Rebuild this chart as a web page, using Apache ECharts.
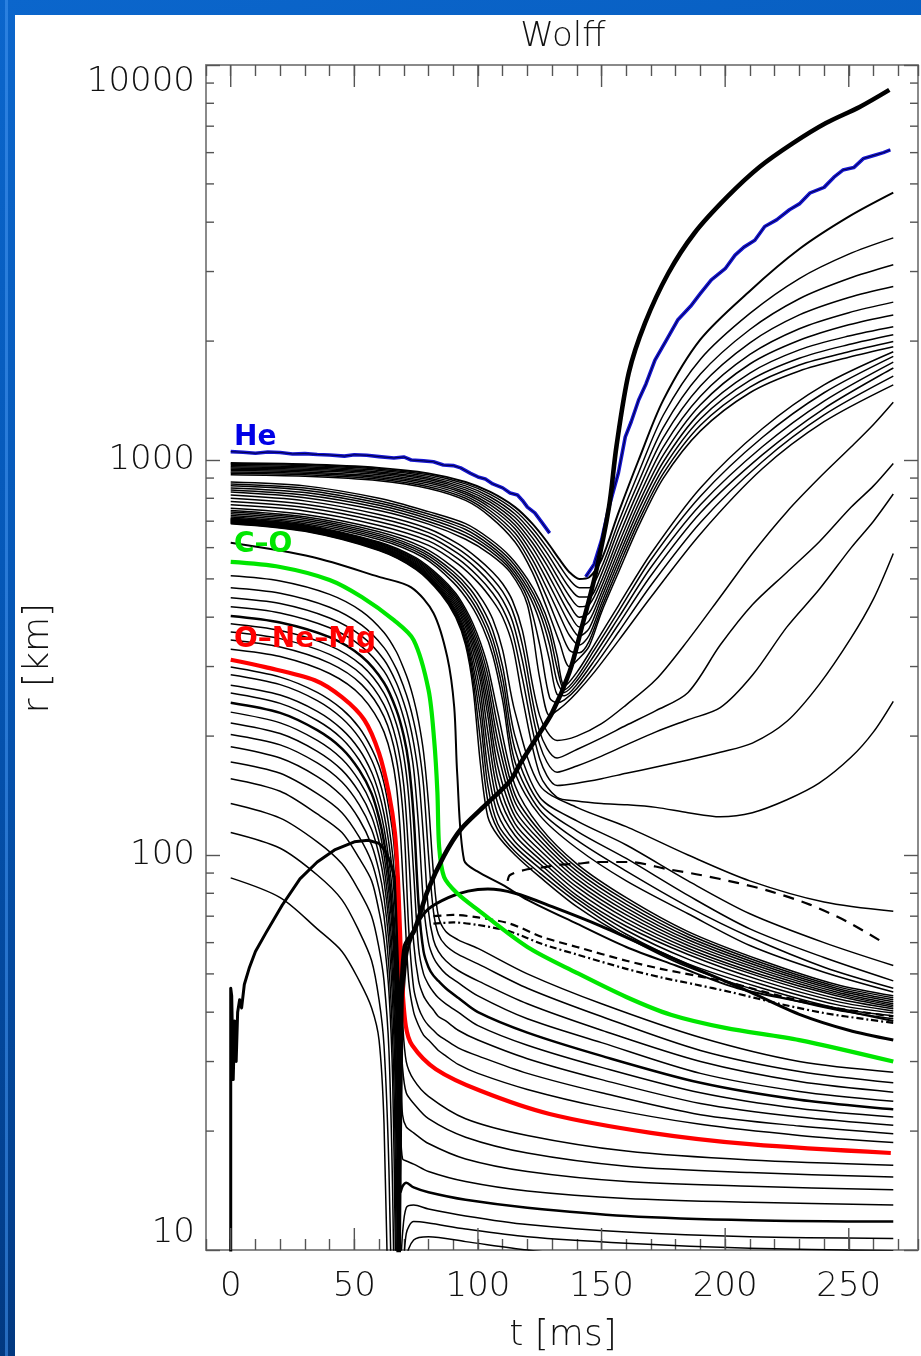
<!DOCTYPE html>
<html><head><meta charset="utf-8">
<script src="https://cdn.jsdelivr.net/npm/echarts@6/dist/echarts.min.js"></script>
<style>
html,body{margin:0;padding:0;width:921px;height:1356px;overflow:hidden;
background:linear-gradient(165deg,#0b66cc 0%,#0558b8 35%,#02408f 75%,#012c68 100%);}
#deco{position:absolute;left:5px;top:0;width:3px;height:1356px;background:rgba(70,150,240,0.55);}
#panel{position:absolute;left:15px;top:15px;width:906px;height:1341px;background:#fff;}
#chart{position:absolute;left:0;top:0;width:921px;height:1356px;}
</style></head><body><div id="deco"></div><div id="panel"></div><div id="chart"></div>
<script>
// ---------------- axis ticks / labels ----------------
const MAJOR_X = [0, 50, 100, 150, 200, 250];
const MINOR_Y = [20,30,40,50,60,70,80,90,200,300,400,500,600,700,800,900,2000,3000,4000,5000,6000,7000,8000,9000];

// ---------------- inner core shells (below O-Ne-Mg) ----------------
const T_INNER = [0, 20, 35, 45, 52, 57, 60, 62, 64, 65.5, 66.5, 67.3, 68, 68.7, 69.5, 71, 74, 80, 95, 120, 160, 210, 268];
const L1  = [299, 282, 258, 234, 210, 186, 168, 152, 131, 114, 98, 82, 66, 50, 38, 30, 27, 24.5, 21.5, 19.5, 17.8, 16.9, 16.4];
const L2  = [286, 270, 246, 222, 198, 174, 155, 139, 118, 100, 84, 68, 52, 38, 29, 25, 23.5, 21.5, 19.3, 17.6, 16.3, 15.7, 15.3];
const L3  = [269, 254, 231, 208, 185, 162, 143, 127, 107, 89, 73, 57, 41, 28, 22, 20.5, 19.8, 18.6, 17, 15.8, 14.9, 14.5, 14.2];
const L4  = [257, 242, 219, 197, 174, 152, 133, 117, 97, 79, 63, 47, 31, 20, 17, 16.8, 16.5, 15.8, 14.9, 14.1, 13.5, 13.2, 13.0];
const L5  = [243, 229, 207, 186, 164, 143, 124, 108, 88, 70, 54, 38, 23, 14, 14.5, 14.8, 14.4, 14, 13.4, 12.8, 12.2, 11.9, 11.8];
const L6  = [230, 216, 195, 175, 154, 134, 116, 100, 80, 62, 46, 30, 16, 9, 11, 12.8, 13, 12.7, 12.2, 11.6, 11.1, 10.8, 10.7];
const L7  = [216, 203, 183, 164, 144, 125, 108, 93, 73, 55, 39, 23, 10, 6, 8, 11, 11.8, 11.7, 11.3, 10.8, 10.4, 10.1, 9.95];
const L8  = [202, 190, 171, 153, 134, 116, 100, 86, 67, 49, 33, 17, 7, 4, 6, 9.5, 10.6, 10.8, 10.5, 10, 9.4, 8.9, 8.5];
const L9  = [188, 176, 158, 141, 123, 106, 91, 78, 60, 42, 26, 11, 4];
const L10 = [172, 161, 143, 128, 111, 96, 82, 70, 52, 34, 18, 6, 4];
const L11 = [156, 145, 127, 114, 98, 86, 72, 61, 45, 27, 11, 4];
const L12 = [135, 124, 108, 95, 81, 70, 58, 48, 32, 14, 5];
const L13 = [114, 104, 89, 77, 64, 54, 43, 33, 16, 5];
const L14 = [87.5, 78, 65, 57, 48, 41, 34, 21, 6, 4];

// ---------------- O-Ne-Mg and C-O shells ----------------
const T_RED = [0, 14, 34, 45, 54, 60, 64, 66.4, 67.6, 68.4, 69.2, 70.8, 73.4, 83, 101, 129, 170, 211, 267];
const R_RED = [312, 299, 277, 251, 220, 181, 143, 114, 88, 66, 49, 37, 33, 28.7, 25.3, 22.1, 19.8, 18.5, 17.6];
const T_GREEN = [0, 20, 40, 53, 66, 74, 80, 82.3, 83.6, 84.3, 86.3, 91.6, 100, 120, 140, 160, 178, 200, 230, 268];
const R_GREEN = [552, 536, 497, 450, 393, 350, 262, 195, 144, 105, 88, 80, 72.6, 58.5, 50.3, 43.7, 39.4, 36.5, 34, 30];

// ---------------- shells between O-Ne-Mg and C-O ----------------
const T_MID = [0, 20, 40, 53, 62, 67, 70, 72, 74, 76, 78, 80, 82, 84, 87, 92, 100, 120, 150, 190, 230, 268];
const M1 = [332, 318, 288, 252, 205, 150, 80, 48, 40, 37, 35, 34, 33, 32, 31, 29.5, 28, 25.5, 23, 20.8, 19.5, 18.7];
const M2 = [350, 336, 306, 270, 224, 175, 120, 65, 46, 41, 38.5, 37, 36, 35, 34, 32.5, 31, 28, 25, 22, 20.6, 19.7];
const M3 = [367, 353, 322, 286, 240, 195, 150, 100, 60, 48, 44, 42, 40.5, 39, 38, 36, 34, 30.5, 27, 23.5, 21.7, 20.7];
const M4 = [385, 370, 339, 302, 257, 215, 178, 140, 90, 58, 50, 47, 45, 43.5, 42, 40, 37, 33, 29, 25, 22.8, 21.7];
const M5 = [403, 388, 356, 318, 273, 233, 200, 170, 125, 75, 57, 52, 49.5, 48, 46, 43.5, 40, 35.5, 31, 26.5, 24, 22.7];
const M6 = [425, 410, 376, 337, 292, 253, 222, 197, 165, 118, 75, 60, 55, 52.5, 50, 47.5, 44, 38.5, 33.5, 28, 25.2, 23.8];
const M7 = [448, 433, 398, 358, 312, 273, 243, 220, 192, 158, 110, 72, 61, 57, 54, 51, 48, 42, 36, 30, 26.7, 25.1];
const M8 = [475, 460, 424, 382, 335, 296, 266, 244, 218, 188, 150, 100, 72, 63, 59, 56, 53, 46, 39, 32, 28.3, 26.5];
const M9 = [509, 494, 457, 414, 366, 327, 296, 274, 248, 218, 182, 135, 90, 70, 64, 61, 58, 50, 42, 34.5, 30, 28.2];

// ---------------- shell just above C-O ----------------
const T_A0 = [0, 33, 60, 73, 82, 87.6, 90.4, 91.6, 94.4, 99.6, 110, 120, 140, 160, 180, 205, 235, 268];
const R_A0 = [617, 568, 506, 476, 410, 317, 237, 161, 97, 91, 84, 77, 67, 58.5, 52.5, 46, 42, 38];

// ---------------- lower dense bundle: settling shells ----------------
const T_BD = [0, 30, 60, 75, 85, 91, 95, 98, 101, 104, 108, 115, 125, 140, 160, 185, 215, 245, 268];
const BD1  = [712, 685, 620, 565, 505, 460, 420, 385, 345, 300, 230, 150, 118, 95, 78, 64, 54, 47, 44];
const BD2  = [710, 682, 617, 561, 500, 454, 413, 376, 334, 285, 212, 142, 115, 93, 76.5, 63, 53.3, 46.5, 43.5];
const BD3  = [708, 679, 614, 557, 495, 448, 406, 367, 323, 270, 196, 136, 112, 91, 75, 62, 52.6, 46, 43];
const BD4  = [706, 676, 611, 553, 490, 442, 399, 358, 312, 255, 182, 130, 109, 89, 73.5, 61, 51.9, 45.5, 42.5];
const BD5  = [704, 674, 608, 549, 485, 436, 392, 349, 300, 240, 168, 125, 106, 87, 72, 60, 51.2, 45, 42];
const BD6  = [702, 671, 605, 545, 480, 430, 385, 339, 288, 225, 156, 120, 103, 85, 70.5, 59, 50.5, 44.5, 41.6];
const BD7  = [700, 669, 602, 542, 475, 424, 377, 328, 275, 205, 145, 116, 100, 83, 69, 58, 49.7, 44, 41.2];
const BD8  = [698, 667, 599, 539, 471, 418, 368, 315, 258, 185, 135, 112, 97.5, 81, 67.5, 57, 49, 43.3, 40.8];
const BD9  = [696, 665, 597, 536, 467, 413, 360, 302, 240, 165, 127, 108, 95, 79, 66, 56, 48, 42.6, 40.3];
const BD10 = [694, 664, 595, 533, 464, 409, 352, 290, 220, 150, 120, 105, 92.5, 77.5, 64.5, 54.5, 47, 41.8, 39.8];
const BD11 = [692, 662, 592, 530, 461, 404, 346, 278, 195, 137, 116, 102, 90, 76, 63, 53, 46, 41, 39.2];
const BD12 = [690, 660, 590, 528, 458, 400, 340, 265, 170, 125, 112, 100, 88, 74, 62, 52, 45, 40.5, 38.5];

// ---------------- lower bundle: shells that fall back slowly ----------------
const T_BM = [0, 30, 60, 78, 90, 97, 102, 106, 110, 115, 125, 140, 160, 185, 210, 240, 268];
const BM1 = [717, 690, 629, 566, 490, 431, 376, 320, 246, 162, 126, 104, 86, 71, 59, 50.5, 45];
const BM2 = [724, 697, 636, 574, 501, 444, 390, 336, 262, 172, 130, 109, 91, 74, 62, 52, 46];
const BM3 = [731, 704, 643, 582, 512, 457, 405, 352, 280, 185, 135, 115, 98, 79, 65, 55, 48];
const BM4 = [738, 711, 650, 590, 522, 470, 420, 370, 300, 200, 140, 122, 106, 86, 71, 60, 52.5];
const BM5 = [745, 718, 658, 600, 535, 485, 440, 395, 330, 230, 150, 132, 118, 100, 86, 76, 72];

// ---------------- lower bundle: shells that turn around and expand ----------------
const T_BA = [0, 30, 60, 80, 92, 100, 106, 110, 114, 118, 125, 132, 140, 150, 160, 172, 185, 198, 211, 225, 238, 251, 260, 268];
const BA1 = [815, 788, 728, 670, 613, 563, 520, 486, 440, 370, 225, 195, 200, 215, 240, 278, 350, 450, 580, 740, 900, 1080, 1230, 1400];
const BA2 = [800, 773, 713, 655, 596, 545, 500, 464, 415, 340, 205, 176, 185, 198, 213, 232, 258, 340, 430, 520, 620, 760, 860, 980];
const BA3 = [785, 758, 698, 640, 579, 527, 480, 442, 390, 310, 190, 162, 168, 178, 190, 205, 220, 236, 285, 378, 470, 600, 700, 820];
const BA4 = [770, 743, 683, 624, 562, 508, 460, 420, 365, 280, 175, 150, 152, 156, 161, 167, 174, 182, 192, 218, 270, 355, 445, 580];
const BA5 = [755, 728, 668, 608, 545, 490, 440, 400, 340, 250, 160, 140, 137, 135, 134, 132, 128, 125, 128, 138, 152, 177, 205, 245];

// ---------------- outer part of lower bundle: swept up by the shock ----------------
const T_BT = [0, 30, 60, 80, 95, 105, 113, 120, 125, 129, 132, 135, 140, 147, 157, 170, 190, 215, 240, 268];
const BT1 = [880, 860, 800, 740, 690, 630, 570, 500, 440, 380, 320, 268, 290, 340, 430, 580, 850, 1200, 1550, 1880];
const BT2 = [870, 849, 789, 730, 678, 619, 559, 488, 425, 362, 298, 262, 282, 330, 415, 560, 810, 1140, 1480, 1830];
const BT3 = [860, 838, 778, 720, 667, 608, 548, 476, 410, 340, 275, 258, 276, 320, 400, 535, 770, 1080, 1410, 1770];
const BT4 = [850, 827, 768, 710, 655, 598, 538, 463, 390, 310, 255, 253, 270, 310, 385, 510, 735, 1030, 1350, 1710];
const BT5 = [840, 815, 757, 699, 643, 588, 529, 448, 340, 250, 243, 247, 264, 300, 368, 482, 695, 990, 1300, 1630];
const BT6 = [830, 803, 745, 688, 630, 577, 520, 430, 280, 225, 232, 240, 258, 290, 350, 450, 650, 950, 1250, 1550];

// ---------------- top bundle (just below He) ----------------
const T_TOP = [0, 30, 60, 80, 95, 105, 115, 122, 128, 133, 137, 141, 145, 150, 157, 165, 175, 190, 210, 230, 250, 268];
const TP1  = [982, 975, 955, 925, 880, 830, 760, 690, 620, 560, 520, 500, 505, 560, 740, 1000, 1420, 2020, 2680, 3420, 4130, 4750];
const TP2  = [975, 968, 948, 917, 870, 818, 745, 672, 600, 540, 498, 475, 475, 535, 700, 930, 1300, 1800, 2350, 2880, 3320, 3650];
const TP3  = [968, 961, 941, 909, 860, 806, 730, 654, 580, 518, 475, 450, 450, 515, 670, 880, 1210, 1650, 2140, 2560, 2880, 3120];
const TP4  = [961, 954, 933, 900, 850, 794, 715, 636, 560, 496, 452, 425, 430, 495, 640, 840, 1140, 1540, 1980, 2330, 2580, 2750];
const TP5  = [954, 947, 926, 892, 840, 782, 700, 618, 540, 475, 430, 400, 410, 478, 615, 805, 1080, 1450, 1850, 2150, 2360, 2510];
const TP6  = [947, 940, 918, 883, 830, 770, 685, 600, 518, 453, 408, 378, 392, 462, 592, 775, 1030, 1380, 1750, 2010, 2200, 2330];
const TP7  = [940, 933, 910, 874, 820, 757, 670, 580, 496, 430, 385, 358, 375, 448, 572, 748, 990, 1320, 1660, 1900, 2060, 2175];
const TP8  = [932, 925, 902, 865, 810, 744, 653, 560, 472, 405, 360, 340, 360, 434, 555, 722, 955, 1270, 1590, 1810, 1960, 2075];
const TP9  = [925, 917, 894, 856, 800, 731, 637, 540, 447, 375, 330, 325, 348, 422, 538, 700, 925, 1225, 1530, 1740, 1880, 1995];
const TP10 = [917, 909, 886, 847, 790, 718, 620, 520, 420, 345, 300, 315, 338, 412, 522, 680, 900, 1185, 1480, 1680, 1820, 1935];

// ---------------- He shell (two pieces) ----------------
const T_HE1 = [0, 5, 10, 15, 20, 25, 30, 35, 40, 46, 50, 55, 60, 66, 70, 73, 78, 82, 86, 90, 93, 97, 100, 103, 106, 110, 113, 116, 118, 120, 123, 126, 129];
const R_HE1 = [1050, 1046, 1040, 1048, 1045, 1036, 1038, 1033, 1030, 1023, 1031, 1028, 1020, 1012, 1018, 1000, 995, 990, 971, 968, 955, 925, 906, 895, 870, 850, 825, 815, 790, 760, 735, 693, 653];
const T_HE2 = [143.6, 147, 150, 153, 156.8, 159.6, 162, 165, 168, 171.6, 176, 180.8, 186, 190, 194.4, 200, 204, 207.6, 212, 216, 220.8, 226, 230, 234.4, 240, 244, 247.6, 252, 256, 260.8, 264, 266.8];
const R_HE2 = [506, 545, 627, 760, 927, 1144, 1250, 1419, 1560, 1791, 2000, 2261, 2450, 2640, 2856, 3050, 3300, 3459, 3600, 3900, 4055, 4300, 4450, 4747, 4900, 5200, 5420, 5500, 5800, 5920, 6000, 6095];

// ---------------- shock (thick) ----------------
const T_SHOCK = [67.8, 69, 70.4, 74.3, 79.6, 86.3, 93, 102, 113, 117, 123, 130, 137, 142, 147.6, 153, 156, 161, 167.6, 177, 187.6, 200.8, 214, 227.6, 240.8, 254.4, 266.4];
const R_SHOCK = [8, 40, 58.5, 64.5, 81, 99.6, 116, 132, 154, 170, 195, 229, 290, 377, 516, 760, 1080, 1660, 2223, 2970, 3756, 4634, 5525, 6350, 7130, 7830, 8650];

// ---------------- early thick curve ----------------
const T_NS = [0, 0, 0.4, 1.0, 1.6, 2.2, 2.8, 3.6, 4.4, 5.5, 7.6, 10, 14.3, 20.8, 28, 35, 42, 50, 55.6, 60, 62.3, 64.5, 66.3, 67.2, 67.8, 68.3];
const R_NS = [4, 46, 44, 27, 38, 30, 40, 43, 41, 47, 52, 57, 63.6, 74.6, 87, 96, 103, 108, 109, 107, 103, 96, 88, 70, 45, 4];

// ---------------- thick curve after bounce ----------------
const T_PEAK = [68.5, 71, 75, 80, 88, 96, 104, 115, 130, 150, 170, 190, 210, 230, 250, 268];
const R_PEAK = [30, 55, 66, 73, 78, 81, 82, 80, 74, 66, 58, 51, 45, 39.5, 36, 34];

// ---------------- dashed curves ----------------
const T_DASH1 = [112, 113, 120, 126, 133, 140, 148, 161, 177, 190, 205, 218, 234, 249, 264];
const R_DASH1 = [86, 89, 92, 93, 94.5, 95, 96, 96, 92, 89, 85, 81, 75, 68, 60];
const T_DASH2 = [82, 90, 100, 113, 126, 140, 160, 174, 188, 202, 222, 240, 258, 268];
const R_DASH2 = [70, 70.5, 69.5, 67, 62, 58.5, 54, 51.5, 49.5, 47.5, 44, 41.5, 39.8, 39];
const R_DASH3 = [67, 67.5, 66.5, 64, 59.5, 56, 51.5, 49, 47, 45, 42, 39.8, 38.3, 37.6];

// ================= build =================
function pts(ts, rs) {
  const out = [];
  for (let i = 0; i < rs.length && i < ts.length; i++) if (rs[i] != null) out.push([ts[i], rs[i]]);
  return out;
}
function line(data, color, width, type, z, noSmooth) {
  return {
    type: 'line', data: data, showSymbol: false, symbol: 'none', silent: true,
    animation: false, clip: true, z: z || 2, emphasis: { disabled: true },
    smooth: noSmooth ? false : 0.3,
    lineStyle: { color: color, width: width, type: type || 'solid', join: 'round' }
  };
}
const BLACK = '#000000';
const series = [];
const thin = 1.5, thick = 2.5;
[TP1, TP2, TP3, TP4, TP5, TP6, TP7, TP8, TP9, TP10].forEach((r, i) => series.push(line(pts(T_TOP, r), BLACK, i === 0 ? 2 : thin)));
[BT1, BT2, BT3, BT4, BT5, BT6].forEach(r => series.push(line(pts(T_BT, r), BLACK, thin)));
[BA1, BA2, BA3, BA4, BA5].forEach(r => series.push(line(pts(T_BA, r), BLACK, thin)));
[BM1, BM2, BM3, BM4, BM5].forEach(r => series.push(line(pts(T_BM, r), BLACK, thin)));
[BD1, BD2, BD3, BD4, BD5, BD6, BD7, BD8, BD9, BD10, BD11, BD12].forEach(r => series.push(line(pts(T_BD, r), BLACK, thin)));
series.push(line(pts(T_A0, R_A0), BLACK, 2));
[M1, M2, M3, M4, M5, M6, M7, M8, M9].forEach((r, i) => series.push(line(pts(T_MID, r), BLACK, i === 4 ? thick : thin)));
[L1, L2, L3, L4, L5, L6, L7, L8, L9, L10, L11, L12, L13, L14].forEach((r, i) => series.push(line(pts(T_INNER, r), BLACK, i === 4 ? thick : thin)));
series.push(line(pts(T_DASH1, R_DASH1), BLACK, 2.2, [11, 8], 3));
series.push(line(pts(T_DASH2, R_DASH2), BLACK, 2.2, [8, 5], 3));
series.push(line(pts(T_DASH2, R_DASH3), BLACK, 2.2, [7, 3, 2, 3], 3));
series.push(line(pts(T_PEAK, R_PEAK), BLACK, 3, 'solid', 3));
series.push(line(pts(T_NS, R_NS), BLACK, 3, 'solid', 3, true));
series.push(line(pts(T_GREEN, R_GREEN), '#00e600', 4.2, 'solid', 4));
series.push(line(pts(T_RED, R_RED), '#ff0000', 4.2, 'solid', 4));
series.push(line(pts(T_HE1, R_HE1), '#1515d0', 3.6, 'solid', 5, true));
series.push(line(pts(T_HE2, R_HE2), '#1515d0', 3.6, 'solid', 5, true));
series.push(line(pts(T_HE1, R_HE1), '#000040', 1, 'solid', 5, true));
series.push(line(pts(T_HE2, R_HE2), '#000040', 1, 'solid', 5, true));
series.push(line(pts(T_SHOCK, R_SHOCK), BLACK, 4.6, 'solid', 6));

const TICK = { stroke: '#555', lineWidth: 1.4 };
series.push({
  type: 'custom', coordinateSystem: 'cartesian2d', silent: true, clip: false, z: 10, animation: false,
  data: MAJOR_X.map(v => [v, 10]),
  renderItem: function (params, api) {
    const p = api.coord([api.value(0), api.value(1)]);
    const cs = params.coordSys;
    return { type: 'group', children: [
      { type: 'line', shape: { x1: p[0], y1: cs.y + cs.height, x2: p[0], y2: cs.y + cs.height - 22 }, style: TICK },
      { type: 'line', shape: { x1: p[0], y1: cs.y, x2: p[0], y2: cs.y + 22 }, style: TICK }
    ] };
  }
});
series.push({
  type: 'custom', coordinateSystem: 'cartesian2d', silent: true, clip: false, z: 10, animation: false,
  data: MINOR_Y.map(v => [0, v]),
  renderItem: function (params, api) {
    const p = api.coord([api.value(0), api.value(1)]);
    const cs = params.coordSys;
    return { type: 'group', children: [
      { type: 'line', shape: { x1: cs.x, y1: p[1], x2: cs.x + 8, y2: p[1] }, style: TICK },
      { type: 'line', shape: { x1: cs.x + cs.width, y1: p[1], x2: cs.x + cs.width - 8, y2: p[1] }, style: TICK }
    ] };
  }
});

const FONT = "'DejaVu Sans', 'Liberation Sans', sans-serif";
const axisLine = { show: true, onZero: false, lineStyle: { color: '#8a8a8a', width: 2 } };
const labelStyle = { color: '#111', fontSize: 34, fontFamily: FONT, fontWeight: 200 };
function xAx(pos, showLabel) {
  return {
    type: 'value', min: -10, max: 278, interval: 10, position: pos,
    axisLine: axisLine, splitLine: { show: false },
    axisTick: { show: true, inside: true, length: 11, lineStyle: { color: '#555', width: 1.4 } },
    axisLabel: Object.assign({ show: showLabel, interval: 0, margin: 20,
      formatter: v => (v >= 0 && v % 50 === 0) ? String(v) : '' }, labelStyle)
  };
}
function yAx(pos, showLabel) {
  return {
    type: 'log', logBase: 10, min: 10, max: 10000, position: pos,
    axisLine: axisLine, splitLine: { show: false }, minorTick: { show: false },
    axisTick: { show: true, inside: true, length: 14, lineStyle: { color: '#555', width: 1.4 } },
    axisLabel: Object.assign({ show: showLabel, margin: 11,
      formatter: v => String(Math.round(v)),
      verticalAlignMinLabel: 'bottom', verticalAlignMaxLabel: 'top' }, labelStyle)
  };
}

const chart = echarts.init(document.getElementById('chart'), null, { renderer: 'canvas' });
chart.setOption({
  backgroundColor: 'transparent',
  animation: false,
  grid: { left: 206, top: 65, width: 720, height: 1185, containLabel: false },
  xAxis: [xAx('bottom', true), xAx('top', false)],
  yAxis: [yAx('left', true), yAx('right', false)],
  series: series,
  graphic: [
    { type: 'text', x: 563, y: 37, style: { text: 'Wolff', fill: '#111', font: "200 34px " + FONT, textAlign: 'center', textVerticalAlign: 'middle' } },
    { type: 'text', x: 563, y: 1336, style: { text: 't [ms]', fill: '#111', font: "200 36px " + FONT, textAlign: 'center', textVerticalAlign: 'middle' } },
    { type: 'text', x: 39, y: 658, rotation: Math.PI / 2, style: { text: 'r [km]', fill: '#111', font: "200 36px " + FONT, textAlign: 'center', textVerticalAlign: 'middle' } },
    { type: 'text', x: 234, y: 438, z: 20, style: { text: 'He', fill: '#0000e6', font: "bold 28px " + FONT, textAlign: 'left', textVerticalAlign: 'middle' } },
    { type: 'text', x: 234, y: 545, z: 20, style: { text: 'C\u2013O', fill: '#00e600', font: "bold 28px " + FONT, textAlign: 'left', textVerticalAlign: 'middle' } },
    { type: 'text', x: 234, y: 640, z: 20, style: { text: 'O\u2013Ne\u2013Mg', fill: '#ff0000', font: "bold 28px " + FONT, textAlign: 'left', textVerticalAlign: 'middle' } }
  ]
});
</script></body></html>
